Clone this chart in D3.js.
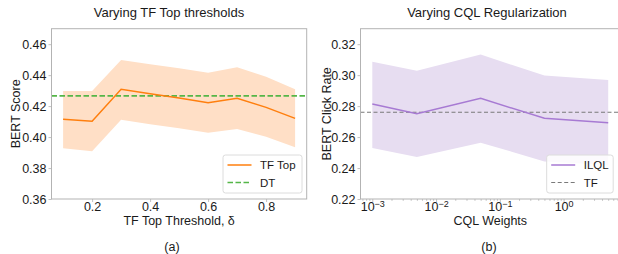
<!DOCTYPE html>
<html>
<head>
<meta charset="utf-8">
<script src="https://cdn.jsdelivr.net/npm/d3@7"></script>
<style>
  body { margin: 0; background: #fff; }
  svg { display: block; font-family: "Liberation Sans", Arial, sans-serif; }
</style>
</head>
<body>
<div id="chart"></div>
<script>
// (a) TF Top threshold sweep
const thresholds = [0.1, 0.2, 0.3, 0.4, 0.5, 0.6, 0.7, 0.8, 0.9];
const tfTopMean  = [0.4115, 0.4102, 0.4309, 0.4280, 0.4252, 0.4222, 0.4250, 0.4192, 0.4121];
const tfTopUpper = [0.4298, 0.4298, 0.4498, 0.4471, 0.4444, 0.4416, 0.4451, 0.4390, 0.4309];
const tfTopLower = [0.3927, 0.3908, 0.4112, 0.4083, 0.4057, 0.4028, 0.4052, 0.4002, 0.3934];
const dtScore = 0.4266;
const leftYTicks = [0.36, 0.38, 0.40, 0.42, 0.44, 0.46];
const leftXTicks = [0.2, 0.4, 0.6, 0.8];

// (b) CQL weight sweep
const cqlWeights = [0.001, 0.005, 0.05, 0.5, 5];
const ilqlMean  = [0.2814, 0.2751, 0.2850, 0.2721, 0.2693];
const ilqlUpper = [0.3087, 0.3029, 0.3133, 0.2997, 0.2969];
const ilqlLower = [0.2529, 0.2471, 0.2564, 0.2443, 0.2420];
const tfRate = 0.2760;
const rightYTicks = [0.22, 0.24, 0.26, 0.28, 0.30, 0.32];
const rightXTicks = [1e-3, 1e-2, 1e-1, 1];

const width = 618, height = 254;
const frameColor = "#b3b3b3";
const textColor = "#1a1a1a";

const svg = d3.select("#chart").append("svg")
    .attr("width", width)
    .attr("height", height);

function styleAxis(g) {
    g.select(".domain").remove();
    g.selectAll(".tick line").attr("stroke", frameColor).attr("stroke-width", 0.8);
    g.selectAll(".tick text").attr("fill", textColor).style("font-size", "12.5px");
}

function panel(opts) {
    const { x, y, title, titleX, xLabel, yLabelX, caption, captionX } = opts;
    const [x0, x1] = x.range();
    const [y0, y1] = y.range();

    // y axis
    svg.append("g")
        .attr("transform", `translate(${x0},0)`)
        .call(d3.axisLeft(y).tickValues(opts.yTicks).tickFormat(d3.format(".2f")).tickSize(3).tickPadding(2))
        .call(styleAxis)
        .selectAll(".tick text").attr("dy", "0.34em");

    // bands and lines
    const area = d3.area().x(d => x(d.x)).y0(d => y(d.lo)).y1(d => y(d.hi));
    const line = d3.line().x(d => x(d.x)).y(d => y(d.v));
    const pts = opts.xs.map((v, i) => ({ x: v, v: opts.mean[i], lo: opts.lower[i], hi: opts.upper[i] }));

    svg.append("path").datum(pts)
        .attr("d", area)
        .attr("fill", opts.fill);

    svg.append("line")
        .attr("x1", x0).attr("x2", x1)
        .attr("y1", y(opts.ref)).attr("y2", y(opts.ref))
        .attr("stroke", opts.refColor)
        .attr("stroke-width", opts.refWidth)
        .attr("stroke-dasharray", opts.refDash);

    svg.append("path").datum(pts)
        .attr("d", line)
        .attr("fill", "none")
        .attr("stroke", opts.color)
        .attr("stroke-width", 1.5);

    // frame
    svg.append("rect")
        .attr("x", x0).attr("y", y1)
        .attr("width", x1 - x0).attr("height", y0 - y1)
        .attr("fill", "none")
        .attr("stroke", frameColor)
        .attr("stroke-width", 1);

    // legend
    const lg = svg.append("g").attr("transform", `translate(${opts.legendX},155)`);
    lg.append("rect")
        .attr("width", opts.legendW).attr("height", 38)
        .attr("rx", 2.5)
        .attr("fill", "rgba(255,255,255,0.85)")
        .attr("stroke", "#dcdcdc");
    opts.legend.forEach((item, i) => {
        const ly = 10 + i * 17.5;
        lg.append("line")
            .attr("x1", 4.5).attr("x2", 28.5)
            .attr("y1", ly).attr("y2", ly)
            .attr("stroke", item.color)
            .attr("stroke-width", item.width)
            .attr("stroke-dasharray", item.dash);
        lg.append("text")
            .attr("x", 37).attr("y", ly).attr("dy", "0.36em")
            .attr("fill", textColor)
            .style("font-size", "11.5px")
            .text(item.label);
    });

    // titles and labels
    svg.append("text")
        .attr("x", titleX).attr("y", 17)
        .attr("text-anchor", "middle")
        .attr("fill", textColor)
        .style("font-size", "13px")
        .text(title);

    svg.append("text")
        .attr("x", (x0 + x1) / 2).attr("y", 225)
        .attr("text-anchor", "middle")
        .attr("fill", textColor)
        .style("font-size", "12.5px")
        .text(xLabel);

    svg.append("text")
        .attr("transform", `translate(${yLabelX},${(y0 + y1) / 2}) rotate(-90)`)
        .attr("text-anchor", "middle")
        .attr("fill", textColor)
        .style("font-size", "12.5px")
        .text(opts.yLabel);

    svg.append("text")
        .attr("x", captionX).attr("y", 250.5)
        .attr("text-anchor", "middle")
        .attr("fill", textColor)
        .style("font-size", "12.5px")
        .text(caption);
}

// ---- panel (a)
const xA = d3.scaleLinear().domain([0.06, 0.94]).range([51.5, 306.7]);
const yA = d3.scaleLinear().domain([0.36, 0.47]).range([199, 28.7]);

svg.append("g")
    .attr("transform", "translate(0,199)")
    .call(d3.axisBottom(xA).tickValues(leftXTicks).tickFormat(d3.format(".1f")).tickSize(3).tickPadding(0.5))
    .call(styleAxis);

panel({
    x: xA, y: yA, yTicks: leftYTicks,
    xs: thresholds, mean: tfTopMean, upper: tfTopUpper, lower: tfTopLower,
    fill: "#ffdfc6", color: "#ff7f0e",
    ref: dtScore, refColor: "#55b648", refWidth: 1.6, refDash: "5.5,2.5",
    legendX: 223, legendW: 79,
    legend: [
        { label: "TF Top", color: "#ff7f0e", width: 1.5, dash: null },
        { label: "DT", color: "#55b648", width: 1.6, dash: "5.5,2.5" }
    ],
    title: "Varying TF Top thresholds", titleX: 169,
    xLabel: "TF Top Threshold, \u03b4",
    yLabel: "BERT Score", yLabelX: 19.5,
    caption: "(a)", captionX: 172
});

// ---- panel (b)
const xB = d3.scaleLog().domain([Math.pow(10, -3.185), Math.pow(10, 0.884)]).range([360.5, 620]);
const yB = d3.scaleLinear().domain([0.22, 0.33]).range([199, 28.7]);

const minorTicks = [];
for (let e = -4; e <= 0; e++) {
    for (let m = 2; m <= 9; m++) {
        const v = m * Math.pow(10, e);
        if (v >= xB.domain()[0] && v <= xB.domain()[1]) minorTicks.push(v);
    }
}

svg.append("g")
    .attr("transform", "translate(0,199)")
    .call(d3.axisBottom(xB).tickValues(minorTicks).tickFormat("").tickSize(1.8))
    .call(styleAxis);

const xAxisB = svg.append("g")
    .attr("transform", "translate(0,199)")
    .call(d3.axisBottom(xB).tickValues(rightXTicks).tickFormat("").tickSize(3).tickPadding(0.5))
    .call(styleAxis);

xAxisB.selectAll(".tick text").each(function(d) {
    const t = d3.select(this);
    t.text(null);
    t.append("tspan").text("10");
    t.append("tspan")
        .attr("dy", "-0.45em")
        .style("font-size", "9px")
        .text(String(Math.round(Math.log10(d))).replace("-", "\u2212"));
});

panel({
    x: xB, y: yB, yTicks: rightYTicks,
    xs: cqlWeights, mean: ilqlMean, upper: ilqlUpper, lower: ilqlLower,
    fill: "#e7ddf1", color: "#a77ad3",
    ref: tfRate, refColor: "#7a7a7a", refWidth: 1.1, refDash: "4,2.5",
    legendX: 546.7, legendW: 66.5,
    legend: [
        { label: "ILQL", color: "#a77ad3", width: 1.5, dash: null },
        { label: "TF", color: "#7a7a7a", width: 1.1, dash: "4,2.5" }
    ],
    title: "Varying CQL Regularization", titleX: 487,
    xLabel: "CQL Weights",
    yLabel: "BERT Click Rate", yLabelX: 330.5,
    caption: "(b)", captionX: 489
});
</script>
</body>
</html>
